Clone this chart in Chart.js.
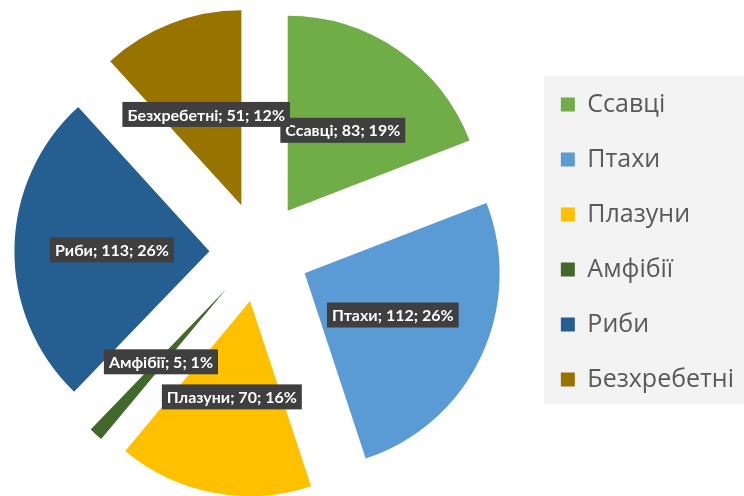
<!DOCTYPE html>
<html>
<head>
<meta charset="utf-8">
<script src="https://cdn.jsdelivr.net/npm/chart.js@4"></script>
<style>
  html, body { margin: 0; padding: 0; background: #fff; overflow: hidden; }
  /* canvas a bit wider than the window, pulled left, so the pie sits left of centre */
  #wrap { width: 756px; height: 496px; margin-left: -12px; position: relative; }
</style>
</head>
<body>
<div id="wrap"><canvas id="pieChart"></canvas></div>
<script>
// data
const categories = ['Ссавці', 'Птахи', 'Плазуни', 'Амфібії', 'Риби', 'Безхребетні'];
const counts     = [83, 112, 70, 5, 113, 51];
const sliceColors = ['#70ad47', '#5b9bd5', '#ffc000', '#43682b', '#255e91', '#997300'];

const EXPLODE = 50;      // every slice pulled out the same distance
const LEGEND_FONT = 25;
const LEGEND_PAD = 55 - LEGEND_FONT;   // keeps rows 55px apart

// move each arc out along its middle angle (plain translation, no resizing)
const explodePlugin = {
  id: 'explode',
  afterDatasetsUpdate(chart) {
    chart.getDatasetMeta(0).data.forEach(arc => {
      const half = (arc.startAngle + arc.endAngle) / 2;
      arc.x += Math.cos(half) * EXPLODE;
      arc.y += Math.sin(half) * EXPLODE;
    });
  }
};

// grey panel behind the legend
const legendPanel = {
  id: 'legendPanel',
  beforeDraw(chart) {
    const lg = chart.legend;
    const ctx = chart.ctx;
    const x0 = lg.left + LEGEND_PAD - 17;
    const y0 = lg.top + LEGEND_PAD - 16;
    const y1 = lg.top + LEGEND_PAD + 5 * 55 + LEGEND_FONT + 12;
    ctx.save();
    ctx.fillStyle = '#f3f3f3';
    ctx.fillRect(x0, y0, chart.width - x0, y1 - y0);
    ctx.restore();
  }
};

// dark callouts "name; value; pct%"
const calloutPlugin = {
  id: 'callouts',
  afterDatasetsDraw(chart) {
    const ctx = chart.ctx;
    const total = counts.reduce((a, b) => a + b, 0);
    ctx.save();
    ctx.font = 'bold 16px Lato';
    ctx.textAlign = 'center';
    ctx.textBaseline = 'middle';
    chart.getDatasetMeta(0).data.forEach((arc, i) => {
      const p = arc.tooltipPosition();
      const txt = `${categories[i]}; ${counts[i]}; ${Math.round(counts[i] / total * 100)}%`;
      const w = ctx.measureText(txt).width + 10;
      const h = 25;
      ctx.fillStyle = '#3f3f3f';
      ctx.fillRect(p.x - w / 2, p.y - h / 2, w, h);
      ctx.fillStyle = '#ffffff';
      ctx.fillText(txt, p.x, p.y + 1);
    });
    ctx.restore();
  }
};

new Chart(document.getElementById('pieChart'), {
  type: 'pie',
  data: {
    labels: categories,
    datasets: [{
      data: counts,
      backgroundColor: sliceColors,
      borderWidth: 0,
      hoverOffset: 0,
      radius: 195,
      clip: false
    }]
  },
  options: {
    responsive: true,
    maintainAspectRatio: false,
    animation: false,
    layout: { padding: { top: 62, bottom: 54, left: 0, right: 0 } },
    plugins: {
      tooltip: { enabled: false },
      legend: {
        position: 'right',
        align: 'start',
        labels: {
          color: '#595959',
          font: { family: 'Open Sans', size: LEGEND_FONT },
          boxWidth: 14,
          boxHeight: 14,
          padding: LEGEND_PAD
        }
      }
    }
  },
  plugins: [explodePlugin, legendPanel, calloutPlugin]
});
</script>
</body>
</html>
